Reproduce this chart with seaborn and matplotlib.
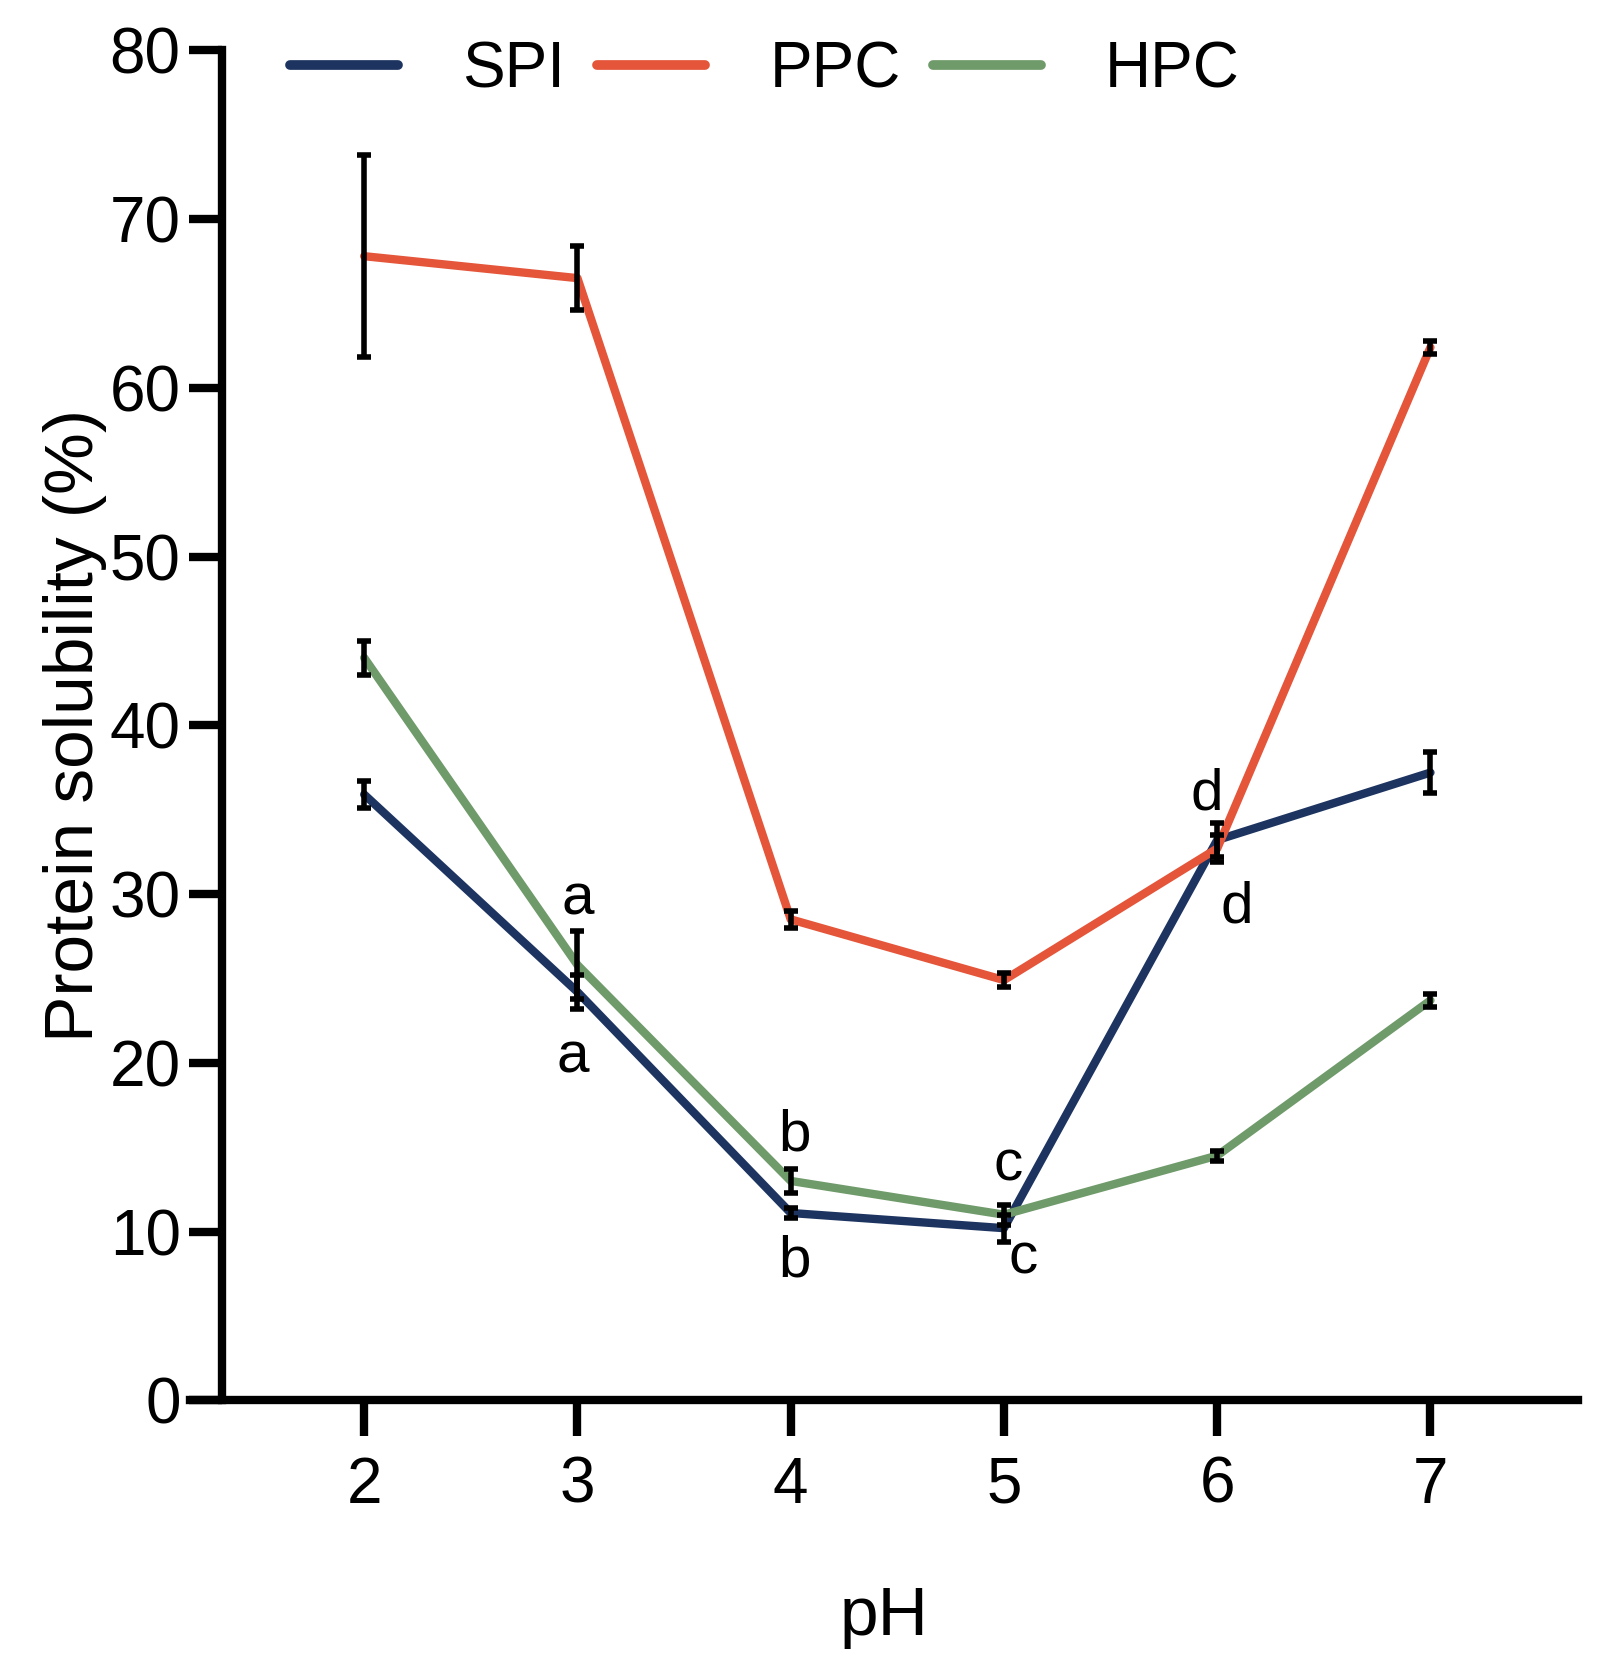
import numpy as np
import pandas as pd
import matplotlib
matplotlib.use("Agg")
import matplotlib.pyplot as plt
import seaborn as sns

ph = [2, 3, 4, 5, 6, 7]
spi = [35.9, 24.2, 11.1, 10.2, 33.2, 37.2]
spi_err = [0.8, 1.0, 0.3, 0.8, 1.0, 1.2]
ppc = [67.8, 66.5, 28.5, 24.9, 32.7, 62.4]
ppc_err = [6.0, 1.9, 0.5, 0.4, 0.8, 0.4]
hpc = [44.0, 25.8, 13.0, 11.0, 14.5, 23.7]
hpc_err = [1.0, 2.0, 0.7, 0.6, 0.3, 0.4]
letters = ["a", "a", "b", "b", "c", "c", "d", "d"]
letter_x = [3, 2.98, 4.02, 4.02, 5.02, 5.09, 5.95, 6.09]
letter_y = [29.7, 20.3, 15.7, 8.2, 13.9, 8.4, 35.9, 29.2]

sns.set_style("ticks")
plt.rcParams['font.family'] = ['Liberation Sans', 'DejaVu Sans']
plt.rcParams['text.color'] = 'black'
plt.rcParams['xtick.color'] = 'black'
plt.rcParams['ytick.color'] = 'black'
plt.rcParams['axes.labelcolor'] = 'black'
plt.rcParams['axes.edgecolor'] = 'black'

fig = plt.figure(figsize=(16, 16.77), dpi=100)
ax = fig.add_axes([0.119, 0.165, 0.867, 0.805])

df = pd.DataFrame({"pH": ph * 3, "val": spi + ppc + hpc,
                   "series": ["SPI"] * 6 + ["PPC"] * 6 + ["HPC"] * 6})
pal = {"SPI": "#1d3461", "PPC": "#e4553a", "HPC": "#6f9a6a"}
sns.lineplot(data=df, x="pH", y="val", hue="series", palette=pal, lw=6, ax=ax)
for v, e in [(spi, spi_err), (ppc, ppc_err), (hpc, hpc_err)]:
    ax.errorbar(ph, v, yerr=e, fmt="none", ecolor="black", elinewidth=4,
                capsize=5, capthick=4, zorder=5)
for t, x, y in zip(letters, letter_x, letter_y):
    ax.text(x, y, t, fontsize=42, ha="center", va="center")

ax.set_xlim(1.185, 7.69)
ax.set_ylim(0, 80)
ax.spines['left'].set_position(('data', 1.335))
ax.spines['top'].set_visible(False)
ax.spines['right'].set_visible(False)
for s in ['left', 'bottom']:
    ax.spines[s].set_linewidth(6)
ax.set_xticks(ph)
ax.set_yticks(range(0, 81, 10))
ax.tick_params(axis='both', width=6, labelsize=46, direction='out')
ax.tick_params(axis='x', length=26, pad=14)
ax.tick_params(axis='y', length=24, pad=6)
ax.set_xlabel("pH", fontsize=50, labelpad=50)
ax.set_ylabel("Protein solubility (%)", fontsize=50)
ax.yaxis.set_label_coords(-0.06, 0.5)

leg = ax.legend(loc="upper left", bbox_to_anchor=(0.03, 1.05), ncol=3, frameon=False,
                fontsize=46, handlelength=1.7, columnspacing=0.5, handletextpad=1.0)
for l in leg.get_lines():
    l.set_linewidth(7)

fig.savefig("out.png", dpi=100)
